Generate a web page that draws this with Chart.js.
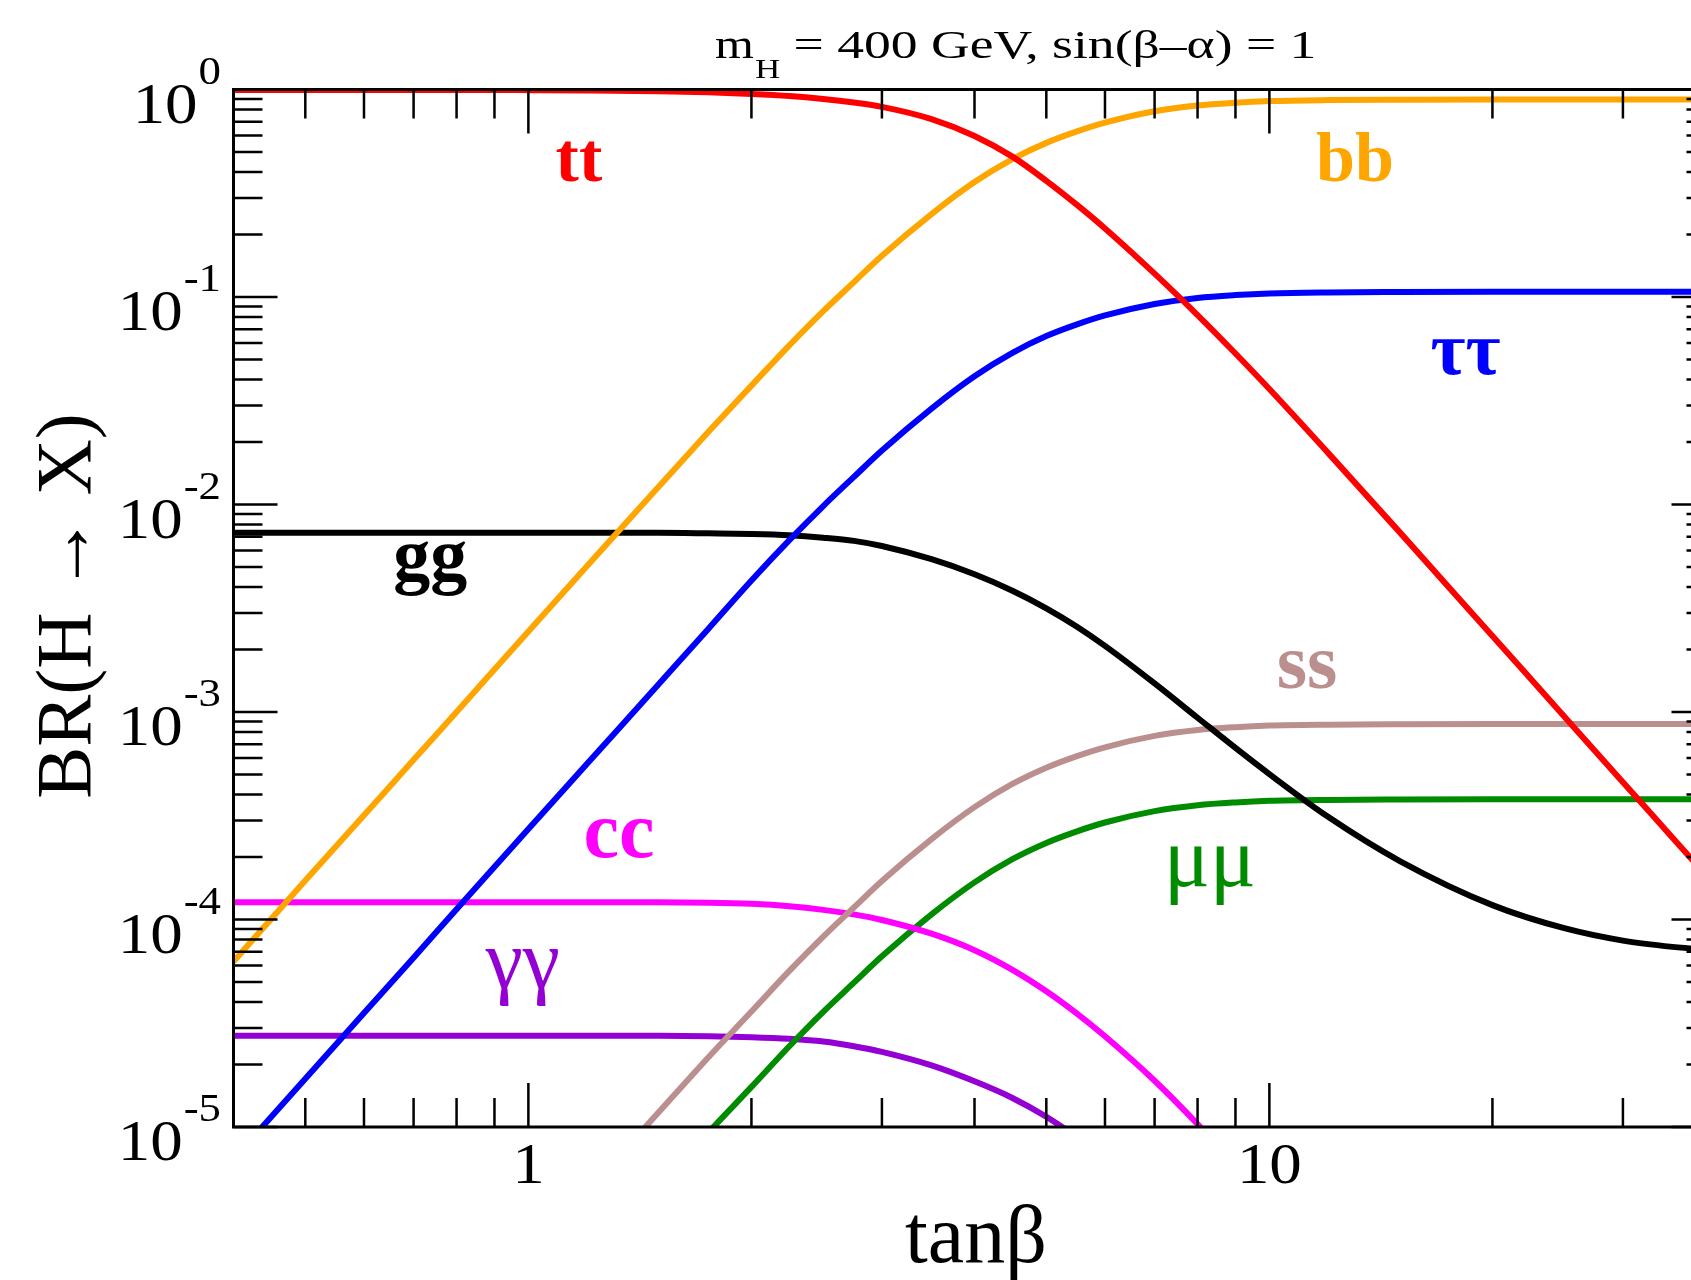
<!DOCTYPE html>
<html>
<head>
<meta charset="utf-8">
<title>BR(H → X)</title>
<script src="https://cdn.jsdelivr.net/npm/chart.js@4.4.1/dist/chart.umd.min.js"></script>
<style>
  html, body { margin: 0; padding: 0; background: #fff; overflow: hidden; }
  canvas { display: block; }
</style>
</head>
<body>
<canvas id="grafico" width="1760" height="1280"></canvas>
<script>
// tan(beta) sampling points
const tanBeta = [0.4, 0.5, 0.6, 0.7, 0.8, 1, 1.2, 1.5, 1.75, 2, 2.25, 2.5, 2.75, 3, 3.5, 4, 4.5, 5, 5.5, 6, 7, 8, 9, 10, 12, 15, 20, 25, 30, 35, 40];

// branching ratios (null = below the frame, not drawn)
const brTT = [0.995, 0.995, 0.995, 0.995, 0.995, 0.993, 0.99, 0.982, 0.97, 0.952, 0.93, 0.9, 0.865, 0.825, 0.72, 0.597, 0.4746, 0.3629, 0.2778, 0.214, 0.1296, 0.0818, 0.0534, 0.036, 0.01773, 7.34e-3, 2.323e-3, 9.52e-4, 4.59e-4, 2.48e-4, 1.452e-4];
const brBB = [6.28e-5, 1.54e-4, 3.18e-4, 5.88e-4, 1.0e-3, 2.445e-3, 5.05e-3, 0.0122, 0.0224, 0.0374, 0.0585, 0.0855, 0.118, 0.158, 0.251, 0.358, 0.462, 0.553, 0.628, 0.692, 0.785, 0.838, 0.864, 0.879, 0.889, 0.893, 0.895, 0.895, 0.895, 0.895, 0.895];
const brTauTau = [7.0e-6, 1.71e-5, 3.54e-5, 6.55e-5, 1.12e-4, 2.73e-4, 5.63e-4, 1.365e-3, 2.52e-3, 4.3e-3, 6.73e-3, 9.83e-3, 0.01359, 0.0182, 0.029, 0.0415, 0.0538, 0.0648, 0.0738, 0.0815, 0.0926, 0.099, 0.1022, 0.104, 0.1052, 0.1057, 0.106, 0.106, 0.106, 0.106, 0.106];
const brGG = [7.3e-3, 7.3e-3, 7.3e-3, 7.3e-3, 7.3e-3, 7.3e-3, 7.3e-3, 7.3e-3, 7.26e-3, 7.21e-3, 7.11e-3, 6.92e-3, 6.68e-3, 6.31e-3, 5.45e-3, 4.613e-3, 3.842e-3, 3.162e-3, 2.577e-3, 2.083e-3, 1.373e-3, 9.38e-4, 6.71e-4, 5.02e-4, 3.126e-4, 1.913e-4, 1.173e-4, 9.08e-5, 7.91e-5, 7.38e-5, 7.1e-5];
const brSS = [null, null, null, null, null, null, 4.9e-6, 1.18e-5, 2.17e-5, 3.6e-5, 5.65e-5, 8.27e-5, 1.143e-4, 1.532e-4, 2.44e-4, 3.48e-4, 4.5e-4, 5.39e-4, 6.13e-4, 6.76e-4, 7.67e-4, 8.19e-4, 8.45e-4, 8.6e-4, 8.69e-4, 8.73e-4, 8.75e-4, 8.75e-4, 8.75e-4, 8.75e-4, 8.75e-4];
const brCC = [1.21e-4, 1.21e-4, 1.21e-4, 1.21e-4, 1.21e-4, 1.21e-4, 1.21e-4, 1.21e-4, 1.205e-4, 1.19e-4, 1.159e-4, 1.113e-4, 1.058e-4, 9.94e-5, 8.54e-5, 7.11e-5, 5.72e-5, 4.51e-5, 3.52e-5, 2.735e-5, 1.67e-5, 1.032e-5, 6.52e-6, null, null, null, null, null, null, null, null];
const brMuMu = [null, null, null, null, null, null, null, 5.12e-6, 9.42e-6, 1.56e-5, 2.45e-5, 3.59e-5, 4.96e-5, 6.65e-5, 1.059e-4, 1.51e-4, 1.953e-4, 2.339e-4, 2.66e-4, 2.934e-4, 3.329e-4, 3.554e-4, 3.667e-4, 3.732e-4, 3.771e-4, 3.789e-4, 3.8e-4, 3.8e-4, 3.8e-4, 3.8e-4, 3.8e-4];
const brGamGam = [2.75e-5, 2.75e-5, 2.75e-5, 2.75e-5, 2.75e-5, 2.75e-5, 2.75e-5, 2.75e-5, 2.74e-5, 2.71e-5, 2.66e-5, 2.58e-5, 2.45e-5, 2.3e-5, 1.98e-5, 1.66e-5, 1.38e-5, 1.12e-5, 8.9e-6, 6.9e-6, 4.15e-6, null, null, null, null, null, null, null, null, null, null];

const canali = ['tt', 'bb', 'ττ', 'gg', 'ss', 'cc', 'μμ', 'γγ'];
const serie = [brTT, brBB, brTauTau, brGG, brSS, brCC, brMuMu, brGamGam];

// where each channel name sits, in (tanβ, BR)
const etichettaTan = [1.17, 13.05, 18.4, 0.737, 11.24, 1.325, 8.31, 0.983];
const etichettaBR = [0.362, 0.362, 0.0426, 4.33e-3, 1.31e-3, 2.01e-4, 1.45e-4, 4.68e-5];

// axis ticks
const xMajor = [1, 10];
const xMajorLabels = ['1', '10'];
const xMinor = [0.5, 0.6, 0.7, 0.8, 0.9, 2, 3, 4, 5, 6, 7, 8, 9, 20, 30];
const yDecadi = [0, -1, -2, -3, -4, -5];

const colori = ['#ff0000', '#ffa500', '#0000ff', '#000000', '#bc8f8f', '#ff00ff', '#008b00', '#9400d3'];
const grassetto = [true, true, true, true, true, true, false, false];
const dimensioni = [70, 70, 76, 74, 78, 80, 86, 84];

const SERIF = '"Liberation Serif", Tinos, "Times New Roman", Times, serif';

function testo(ctx, s, px, py, font, align, sx) {
  ctx.save();
  ctx.font = font;
  ctx.textAlign = align;
  ctx.textBaseline = 'alphabetic';
  ctx.translate(px, py);
  ctx.scale(sx, 1);
  ctx.fillText(s, 0, 0);
  ctx.restore();
}

const cornice = {
  id: 'cornice',
  afterDatasetsDraw(chart) {
    const ctx = chart.ctx;
    const a = chart.chartArea;
    const x = chart.scales.x, y = chart.scales.y;
    ctx.save();
    ctx.strokeStyle = '#000';
    ctx.lineWidth = 2.5;
    ctx.beginPath();
    // x ticks, bottom and top
    const xt = xMajor.map(v => [v, 44]).concat(xMinor.map(v => [v, 29]));
    xt.forEach(([v, len]) => {
      const px = x.getPixelForValue(v);
      ctx.moveTo(px, a.bottom); ctx.lineTo(px, a.bottom - len);
      ctx.moveTo(px, a.top); ctx.lineTo(px, a.top + len);
    });
    // y ticks, left and right
    yDecadi.forEach(k => {
      const py = y.getPixelForValue(Math.pow(10, k));
      ctx.moveTo(a.left, py); ctx.lineTo(a.left + 44, py);
      ctx.moveTo(a.right, py); ctx.lineTo(a.right - 44, py);
    });
    yDecadi.slice(1).forEach(k => {
      for (let m = 2; m <= 9; m++) {
        const py = y.getPixelForValue(m * Math.pow(10, k));
        ctx.moveTo(a.left, py); ctx.lineTo(a.left + 29, py);
        ctx.moveTo(a.right, py); ctx.lineTo(a.right - 29, py);
      }
    });
    ctx.stroke();
    ctx.lineWidth = 3;
    ctx.strokeRect(a.left, a.top, a.right - a.left, a.bottom - a.top);
    ctx.restore();
  },
  afterDraw(chart) {
    const ctx = chart.ctx;
    const a = chart.chartArea;
    const x = chart.scales.x, y = chart.scales.y;
    ctx.save();
    ctx.fillStyle = '#000';

    // y tick labels 10^k
    yDecadi.forEach(k => {
      const py = y.getPixelForValue(Math.pow(10, k));
      const sup = String(k);
      ctx.font = '40px ' + SERIF;
      const w = ctx.measureText(sup).width * 1.12;
      testo(ctx, sup, 221, py - 6, '40px ' + SERIF, 'right', 1.12);
      testo(ctx, '10', 221 - w - 1, py + 33, '58px ' + SERIF, 'right', 1.12);
    });
    // x tick labels
    xMajor.forEach((v, i) => {
      testo(ctx, xMajorLabels[i], x.getPixelForValue(v), a.bottom + 56, '58px ' + SERIF, 'center', 1.12);
    });

    // axis titles
    testo(ctx, 'tanβ', 905, 1262, '82px ' + SERIF, 'left', 1);
    ctx.save();
    ctx.translate(90, 606);
    ctx.rotate(-Math.PI / 2);
    ctx.font = '78px ' + SERIF;
    ctx.textAlign = 'center';
    ctx.fillText('BR(H → X)', 0, 0);
    ctx.restore();

    // title with subscript
    let cx = 715;
    testo(ctx, 'm', cx, 58, '40px ' + SERIF, 'left', 1.25);
    ctx.font = '40px ' + SERIF;
    cx += ctx.measureText('m').width * 1.25 + 1;
    testo(ctx, 'H', cx, 78, '28px ' + SERIF, 'left', 1.25);
    ctx.font = '28px ' + SERIF;
    cx += ctx.measureText('H').width * 1.25;
    testo(ctx, ' = 400 GeV, sin(β–α) = 1', cx, 58, '40px ' + SERIF, 'left', 1.34);

    // channel names
    canali.forEach((c, i) => {
      ctx.fillStyle = colori[i];
      const f = (grassetto[i] ? 'bold ' : '') + dimensioni[i] + 'px ' + SERIF;
      testo(ctx, c, x.getPixelForValue(etichettaTan[i]), y.getPixelForValue(etichettaBR[i]), f, 'center', 1);
    });
    ctx.restore();
  }
};

function disegna() {
  const ctx = document.getElementById('grafico').getContext('2d');
  return new Chart(ctx, {
    type: 'line',
    data: {
      datasets: serie.map((vals, i) => ({
        label: canali[i],
        data: tanBeta.map((t, j) => ({ x: t, y: vals[j] })),
        borderColor: colori[i],
        backgroundColor: colori[i],
        borderWidth: 6,
        pointRadius: 0,
        fill: false,
        spanGaps: false,
        cubicInterpolationMode: 'monotone'
      }))
    },
    options: {
      responsive: false,
      devicePixelRatio: 1,
      animation: false,
      layout: { padding: { left: 233.5, right: 44.5, top: 89.5, bottom: 153 } },
      plugins: { legend: { display: false }, tooltip: { enabled: false }, title: { display: false } },
      scales: {
        x: { type: 'logarithmic', min: 0.4, max: 40, display: false },
        y: { type: 'logarithmic', min: 1e-5, max: 1, display: false }
      }
    },
    plugins: [cornice]
  });
}

Promise.all([
  document.fonts.load('40px "Liberation Serif"', 'Bβ10'),
  document.fonts.load('bold 40px "Liberation Serif"', 'bt')
]).catch(() => null).then(() => { window.grafico = disegna(); });
</script>
</body>
</html>
